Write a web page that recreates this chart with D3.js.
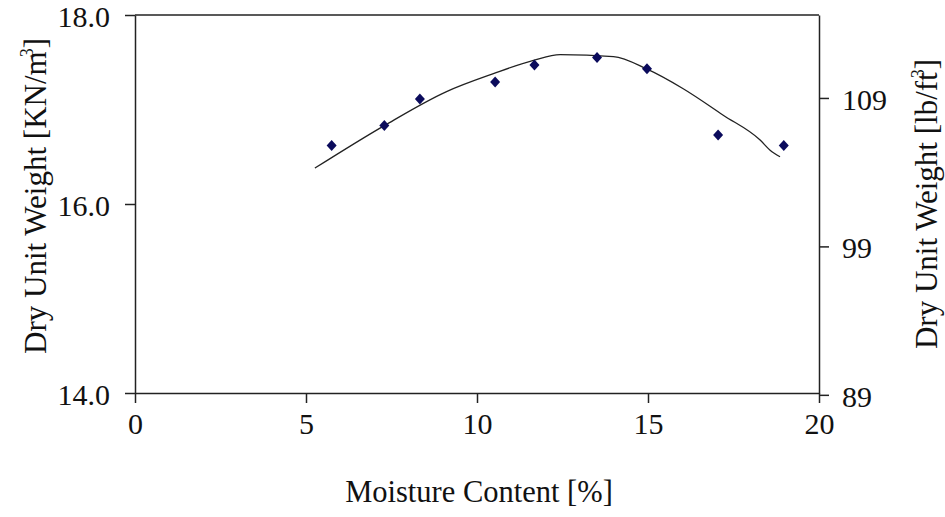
<!DOCTYPE html>
<html>
<head>
<meta charset="utf-8">
<script src="https://cdn.jsdelivr.net/npm/d3@7"></script>
<style>
  html, body { margin: 0; padding: 0; background: #fff; }
  svg { display: block; }
  text { font-family: "Liberation Serif", "Times New Roman", serif; fill: #111; }
</style>
</head>
<body>
<svg id="chart" width="945" height="517"></svg>
<script>
// Measured data points (moisture %, dry unit weight kN/m3)
const moisture = [5.75, 7.29, 8.33, 10.53, 11.68, 13.51, 14.97, 17.05, 18.97];
const unitWeight = [16.62, 16.83, 17.11, 17.29, 17.47, 17.55, 17.43, 16.73, 16.62];

// Fitted curve
const curveMoisture = [5.26, 7.29, 9.11, 10.48, 11.65, 12.43, 13.99, 14.96, 16.03, 17.20, 18.27, 18.57, 18.86];
const curveWeight   = [16.38, 16.83, 17.19, 17.38, 17.52, 17.58, 17.56, 17.43, 17.22, 16.94, 16.68, 16.57, 16.50];

const xTicks = [0, 5, 10, 15, 20];
const leftTicks = [14, 16, 18];
const rightTicks = [89, 99, 109];

const svg = d3.select("#chart");
const L = 135, R = 819, T = 15, B = 393;

const x = d3.scaleLinear().domain([0, 20]).range([L, R]);
const y = d3.scaleLinear().domain([14, 18]).range([B, T]);
const yR = d3.scaleLinear().domain([14 * 6.366, 18 * 6.366]).range([B, T]);

// frame top line
svg.append("line").attr("x1", L).attr("x2", R).attr("y1", T).attr("y2", T)
  .attr("stroke", "#222").attr("stroke-width", 1.5);

const styleAxis = g => {
  g.selectAll("path.domain").attr("stroke", "#222").attr("stroke-width", 1.5);
  g.selectAll(".tick line").attr("stroke", "#222").attr("stroke-width", 1.5);
  g.selectAll(".tick text").attr("font-size", 30)
    .attr("font-family", "Liberation Serif, Times New Roman, serif").attr("fill", "#111");
};

const gx = svg.append("g").attr("transform", `translate(0,${B})`)
  .call(d3.axisBottom(x).tickValues(xTicks).tickFormat(d3.format("d")).tickSize(10).tickSizeOuter(0).tickPadding(10));
styleAxis(gx);
gx.selectAll(".tick text").attr("dy", "0.71em");

const gl = svg.append("g").attr("transform", `translate(${L},0)`)
  .call(d3.axisLeft(y).tickValues(leftTicks).tickFormat(d3.format(".1f")).tickSize(10).tickSizeOuter(0).tickPadding(15));
styleAxis(gl);
gl.selectAll(".tick text").attr("dy", "0.38em");

const gr = svg.append("g").attr("transform", `translate(${R},0)`)
  .call(d3.axisRight(yR).tickValues(rightTicks).tickFormat(d3.format("d")).tickSize(10).tickSizeOuter(0).tickPadding(13));
styleAxis(gr);
gr.selectAll(".tick text").attr("dy", "0.38em");

// curve
const curvePts = curveMoisture.map((m, i) => [m, curveWeight[i]]);
svg.append("path")
  .datum(curvePts)
  .attr("fill", "none")
  .attr("stroke", "#222")
  .attr("stroke-width", 1.3)
  .attr("d", d3.line().x(d => x(d[0])).y(d => y(d[1])).curve(d3.curveMonotoneX));

// points
const pts = moisture.map((m, i) => [m, unitWeight[i]]);
svg.append("g").selectAll("path")
  .data(pts).join("path")
  .attr("transform", d => `translate(${x(d[0])},${y(d[1])})`)
  .attr("d", "M0,-5.5L5,0L0,5.5L-5,0Z")
  .attr("fill", "#0b0b5c");

// axis titles
svg.append("text")
  .attr("x", (L + R) / 2 + 2).attr("y", 502)
  .attr("text-anchor", "middle").attr("font-size", 30.5)
  .text("Moisture Content [%]");

const lt = svg.append("text")
  .attr("transform", "translate(46,196) rotate(-90)")
  .attr("text-anchor", "middle").attr("font-size", 31);
lt.append("tspan").text("Dry Unit Weight [KN/m");
lt.append("tspan").attr("font-size", 18).attr("dx", -6).attr("dy", -13).text("3");
lt.append("tspan").attr("dy", 13).text("]");

const rt = svg.append("text")
  .attr("transform", "translate(937,204) rotate(-90)")
  .attr("text-anchor", "middle").attr("font-size", 31);
rt.append("tspan").text("Dry Unit Weight [lb/ft");
rt.append("tspan").attr("font-size", 18).attr("dx", -6).attr("dy", -13).text("3");
rt.append("tspan").attr("dy", 13).text("]");
</script>
</body>
</html>
